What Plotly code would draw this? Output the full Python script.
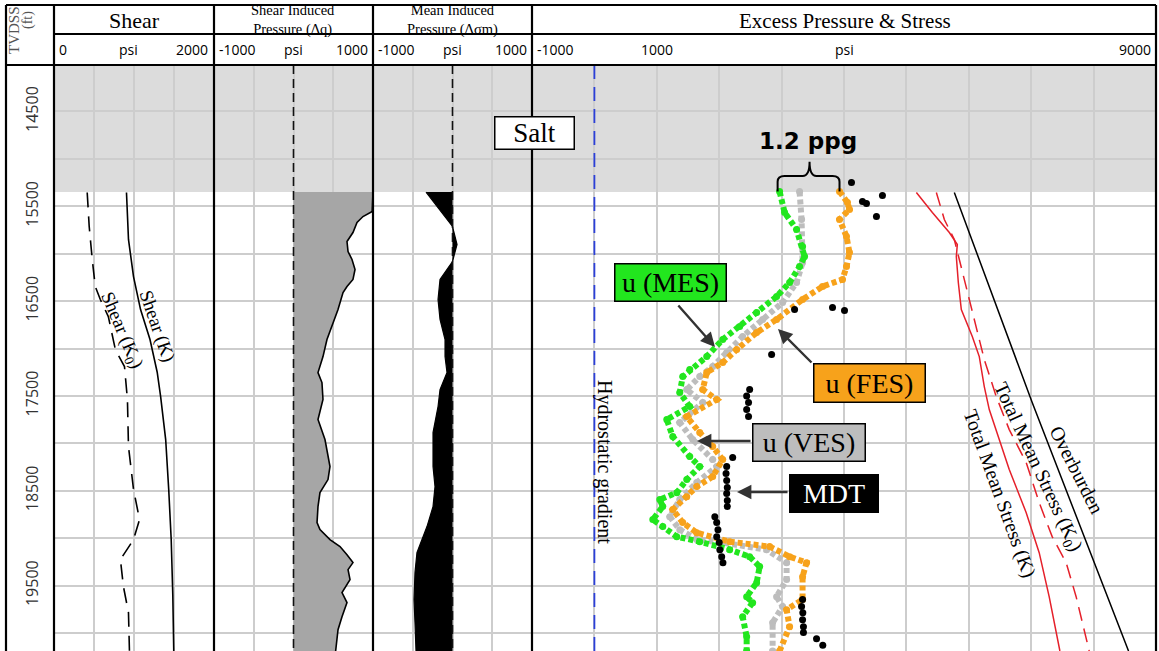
import plotly.graph_objects as go

# ---------------------------------------------------------------- data
depth_range = [20190, 14010]          # ft TVDSS (reversed: depth increases downward)
grid_depths = [14500, 15000, 15500, 16000, 16500, 17000, 17500, 18000,
               18500, 19000, 19500, 20000]
depth_labels = ["14500", "", "15500", "", "16500", "", "17500", "",
                "18500", "", "19500", ""]
salt_base_ft = 15350

# Track 1 - shear strength
shear_k_depth = [15354, 15534, 15850, 16241, 16589, 16905, 17250, 17507,
                 17960, 18487, 19015, 19600, 20190]
shear_k_psi = [906, 918, 931, 994, 1082, 1200, 1290, 1333,
               1396, 1434, 1465, 1485, 1497]
shear_k0_depth = [15354, 15713, 16061, 16346, 16483, 16663, 17011, 17190,
                  17538, 18034, 18487, 18804, 19015, 19226, 19511, 19785, 20190]
shear_k0_psi = [415, 440, 478, 516, 579, 679, 767, 881,
                918, 931, 994, 1069, 994, 830, 868, 931, 943]

# Track 2 - shear induced pressure (delta q)
dq_depth = [15350, 15555, 15608, 15671, 15777, 15872, 15977, 16061, 16167,
            16272, 16346, 16410, 16589, 16768, 16905, 17085, 17254, 17359,
            17538, 17749, 17960, 18245, 18382, 18520, 18667, 18836, 18910,
            19015, 19089, 19174, 19258, 19332, 19437, 19574, 19680, 19828,
            19965, 20190]
dq_psi = [1000, 990, 874, 799, 748, 673, 686, 736, 774,
          748, 673, 623, 560, 484, 421, 371, 308, 358,
          371, 308, 396, 459, 434, 333, 308, 296, 333,
          459, 585, 673, 748, 686, 711, 610, 673, 610,
          560, 530]

# Track 3 - mean induced pressure (delta sigma m)
dsm_depth = [15350, 15713, 15903, 16082, 16272, 16483, 16694, 16905, 17085,
             17254, 17433, 17612, 17887, 18245, 18456, 18667, 18878, 19015,
             19152, 19363, 19648, 19891, 20190]
dsm_psi = [-333, 0, 57, 0, -157, -182, -157, -94, -94,
           -69, -157, -182, -245, -245, -220, -245, -321, -384,
           -447, -472, -484, -472, -459]

zero_depth = [14010, 20190]
zero_psi = [0, 0]

# Track 4 - excess pore pressure from mean / vertical / fracture effective stress
mes_depth = [15344, 15566, 15745, 15924, 16030, 16135, 16304, 16452, 16621,
             16768, 16905, 17085, 17222, 17296, 17465, 17612, 17749, 17929,
             18140, 18245, 18382, 18520, 18593, 18667, 18804, 18878, 18984,
             19037, 19121, 19195, 19300, 19469, 19617, 19680, 19828, 20039,
             20190]
mes_psi = [2968, 3048, 3240, 3336, 3368, 3288, 3128, 2920, 2600,
           2328, 2056, 1800, 1528, 1416, 1368, 1528, 1160, 1256,
           1528, 1688, 1480, 1320, 1048, 1096, 936, 1096, 1320,
           1688, 2168, 2488, 2648, 2600, 2440, 2536, 2376, 2440,
           2440]

ves_depth = [15344, 15639, 16093, 16304, 16515, 16694, 16874, 17043, 17190,
             17296, 17433, 17570, 17781, 17960, 18171, 18245, 18414, 18593,
             18773, 18910, 19015, 19047, 19121, 19258, 19437, 19617, 19722,
             19891, 20190]
ves_psi = [3288, 3320, 3336, 3240, 3016, 2696, 2376, 2120, 1896,
           1688, 1480, 1736, 1368, 1576, 1896, 1960, 1640, 1368,
           1208, 1368, 1640, 2056, 2760, 3080, 3080, 2920, 3016,
           2856, 2856]

fes_depth = [15344, 15460, 15534, 15639, 15819, 15988, 16135, 16272, 16346,
             16483, 16694, 16832, 17011, 17148, 17254, 17433, 17538, 17718,
             17887, 18034, 18171, 18351, 18456, 18562, 18699, 18836, 18942,
             19037, 19089, 19195, 19258, 19406, 19648, 19754, 19933, 20190]
fes_psi = [3928, 4056, 4088, 3928, 4040, 4088, 4040, 3976, 3656,
           3336, 2920, 2600, 2280, 2056, 1800, 1736, 1960, 1480,
           1688, 1896, 2056, 1896, 1640, 1480, 1256, 1416, 1640,
           2168, 2808, 3128, 3400, 3336, 3336, 3080, 3128, 2968]

mdt_depth = [15249, 15450, 15470, 15386, 15608, 16589, 16568, 16600, 17064,
             17433, 17500, 17570, 17644, 17718, 18150, 18245, 18319, 18393,
             18467, 18530, 18604, 18667, 18773, 18836, 18910, 18984, 19047,
             19121, 19195, 19258, 19648, 19722, 19786, 19860, 19933, 19996,
             20060, 20130]
mdt_psi = [4120, 4296, 4360, 4616, 4520, 3208, 3816, 4008, 2840,
           2488, 2440, 2470, 2440, 2470, 2216, 2120, 2110, 2120,
           2130, 2120, 2130, 2130, 1930, 1960, 1980, 1960, 2000,
           2010, 2040, 2060, 3336, 3320, 3340, 3336, 3350, 3350,
           3560, 3660]

tms_k_depth = [15354, 15566, 15777, 15903, 16030, 16304, 16589, 16874, 17085,
               17401, 17644, 18066, 18277, 18731, 19153, 19617, 20190]
tms_k_psi = [5160, 5416, 5688, 5816, 5800, 5832, 5880, 6056, 6168,
             6248, 6328, 6536, 6648, 6920, 7128, 7288, 7460]

tms_k0_depth = [15354, 15639, 15850, 16061, 16346, 16800, 17116, 17507, 17855,
                18203, 18625, 18984, 19258, 19617, 20039, 20190]
tms_k0_psi = [5480, 5608, 5768, 5848, 5960, 6120, 6248, 6440, 6648,
              6920, 7128, 7336, 7560, 7720, 7880, 7930]

ob_depth = [15354, 17570, 20190]
ob_psi = [5768, 7016, 8560]

hydro_depth = [14010, 20190]
hydro_psi = [0, 0]

# ---------------------------------------------------------------- layout helpers
W, H = 1159, 651
HEAD_TOP, HEAD_MID, HEAD_BOT = 5, 34, 65
FRAME_L = 6
EDGES = [54, 214, 373, 532, 1156]


def fx(px):
    return px / W


def fy(py):
    return 1 - py / H


SERIF = "Liberation Serif"
SANS = "Open Sans"
GRID = "#cdcdcd"

fig = go.Figure()

tracks = [
    dict(rng=[0, 2000], dtick=500),
    dict(rng=[-1000, 1000], dtick=500),
    dict(rng=[-1000, 1000], dtick=500),
    dict(rng=[-1000, 9000], dtick=1000),
]

layout_axes = {}
for i, t in enumerate(tracks):
    n = "" if i == 0 else str(i + 1)
    layout_axes["xaxis" + n] = dict(
        domain=[fx(EDGES[i]), fx(EDGES[i + 1])], range=t["rng"],
        anchor="y" + n, dtick=t["dtick"], tick0=t["rng"][0],
        showgrid=True, gridcolor=GRID, gridwidth=1.5,
        showticklabels=False, ticks="", zeroline=False, showline=False,
        fixedrange=True)
    ydict = dict(
        domain=[0, fy(HEAD_BOT)], range=depth_range, anchor="x" + n,
        tickmode="array", tickvals=grid_depths, ticktext=depth_labels,
        showgrid=True, gridcolor=GRID, gridwidth=1.5, zeroline=False,
        showline=False, ticks="", fixedrange=True)
    if i == 0:
        ydict.update(showticklabels=True, tickangle=-90,
                     tickfont=dict(family=SANS, size=16, color="#333333"),
                     ticklabelstandoff=12)
    else:
        ydict.update(showticklabels=False, matches="y")
    layout_axes["yaxis" + n] = ydict

# ---------------------------------------------------------------- traces
# track 1
fig.add_trace(go.Scatter(x=shear_k_psi, y=shear_k_depth, mode="lines",
                         line=dict(color="black", width=1.6), xaxis="x", yaxis="y"))
fig.add_trace(go.Scatter(x=shear_k0_psi, y=shear_k0_depth, mode="lines",
                         line=dict(color="black", width=1.6, dash="15px,9px"),
                         xaxis="x", yaxis="y"))

# track 2
fig.add_trace(go.Scatter(x=dq_psi, y=dq_depth, mode="lines", fill="tozerox",
                         fillcolor="#a6a6a6", line=dict(color="black", width=1.6),
                         xaxis="x2", yaxis="y2"))
fig.add_trace(go.Scatter(x=zero_psi, y=zero_depth, mode="lines",
                         line=dict(color="#111111", width=1.6, dash="9px,5px"),
                         xaxis="x2", yaxis="y2"))

# track 3
fig.add_trace(go.Scatter(x=dsm_psi, y=dsm_depth, mode="lines", fill="tozerox",
                         fillcolor="black", line=dict(color="black", width=1.2),
                         xaxis="x3", yaxis="y3"))
fig.add_trace(go.Scatter(x=zero_psi, y=zero_depth, mode="lines",
                         line=dict(color="#111111", width=1.6, dash="9px,5px"),
                         xaxis="x3", yaxis="y3"))

# track 4
fig.add_trace(go.Scatter(x=hydro_psi, y=hydro_depth, mode="lines",
                         line=dict(color="#2b3fd8", width=1.8, dash="14px,8px"),
                         xaxis="x4", yaxis="y4"))
fig.add_trace(go.Scatter(x=ob_psi, y=ob_depth, mode="lines",
                         line=dict(color="black", width=1.5),
                         xaxis="x4", yaxis="y4"))
fig.add_trace(go.Scatter(x=tms_k_psi, y=tms_k_depth, mode="lines",
                         line=dict(color="#e5202a", width=1.5),
                         xaxis="x4", yaxis="y4"))
fig.add_trace(go.Scatter(x=tms_k0_psi, y=tms_k0_depth, mode="lines",
                         line=dict(color="#e5202a", width=1.5, dash="14px,8px"),
                         xaxis="x4", yaxis="y4"))

for xs, ys, col in [(ves_psi, ves_depth, "#bdbdbd"),
                    (mes_psi, mes_depth, "#22e61e"),
                    (fes_psi, fes_depth, "#f7a21b")]:
    fig.add_trace(go.Scatter(x=xs, y=ys, mode="lines+markers",
                             line=dict(color=col, width=6, dash="5px,3px"),
                             marker=dict(color=col, size=7),
                             xaxis="x4", yaxis="y4"))

fig.add_trace(go.Scatter(x=mdt_psi, y=mdt_depth, mode="markers",
                         marker=dict(color="black", size=7),
                         xaxis="x4", yaxis="y4"))

# ---------------------------------------------------------------- shapes
shapes = []
# salt body
shapes.append(dict(type="rect", xref="paper", yref="y", layer="below",
                   x0=fx(EDGES[0]), x1=fx(EDGES[-1]), y0=depth_range[1], y1=salt_base_ft,
                   fillcolor="#dcdcdc", line=dict(width=0)))


# frame lines
def vline(px, y0, y1, w=2.2):
    shapes.append(dict(type="line", xref="paper", yref="paper", layer="above",
                       x0=fx(px), x1=fx(px), y0=fy(y0), y1=fy(y1),
                       line=dict(color="black", width=w)))


def hline(py, x0, x1, w=2.2):
    shapes.append(dict(type="line", xref="paper", yref="paper", layer="above",
                       x0=fx(x0), x1=fx(x1), y0=fy(py), y1=fy(py),
                       line=dict(color="black", width=w)))


vline(FRAME_L, HEAD_TOP, H)
for e in EDGES:
    vline(e, HEAD_TOP, H)
hline(HEAD_TOP, FRAME_L, EDGES[-1])
hline(HEAD_MID, EDGES[0], EDGES[-1])
hline(HEAD_BOT, FRAME_L, EDGES[-1])

# "1.2 ppg" brace over the effective-stress spread
bx0, bxm, bx1 = 2936, 3448, 3928
yb, yh, yt = 15344, 15180, 15030
rx, ry = 110, 60
brace = (f"M {bx0},{yb} L {bx0},{yh + ry} Q {bx0},{yh} {bx0 + rx},{yh} "
         f"L {bxm - rx},{yh} Q {bxm},{yh} {bxm},{yt} "
         f"Q {bxm},{yh} {bxm + rx},{yh} L {bx1 - rx},{yh} "
         f"Q {bx1},{yh} {bx1},{yh + ry} L {bx1},{yb}")
shapes.append(dict(type="path", xref="x4", yref="y4", path=brace, layer="above",
                   line=dict(color="black", width=2)))

# ---------------------------------------------------------------- annotations
ann = []


def text(px, py, s, size=14, family=SERIF, color="black", xanchor="center",
         angle=0, **kw):
    ann.append(dict(x=fx(px), y=fy(py), xref="paper", yref="paper", text=s,
                    showarrow=False, xanchor=xanchor, yanchor="middle",
                    textangle=angle, font=dict(family=family, size=size, color=color),
                    **kw))


# header titles
text(14, 30, "TVDSS", size=15, color="#555555", angle=-90)
text(28, 20, "(ft)", size=14, color="#555555", angle=-90)
text(134, 20, "Shear", size=22)
text(293, 20.5, "Shear Induced<br>Pressure (Δq)", size=14.5, borderpad=0)
text(452, 20.5, "Mean Induced<br>Pressure (Δσm)", size=14.5, borderpad=0)
text(845, 21, "Excess Pressure &amp; Stress", size=21)

# scale row
SC = 50
text(57, SC, "0", size=14, family=SANS, xanchor="left")
text(128, SC, "psi", size=14, family=SANS)
text(210, SC, "2000", size=14, family=SANS, xanchor="right")
for e0, e1 in [(214, 373), (373, 532)]:
    text(e0 + 3, SC, "-1000", size=14, family=SANS, xanchor="left")
    text((e0 + e1) / 2, SC, "psi", size=14, family=SANS)
    text(e1 - 3, SC, "1000", size=14, family=SANS, xanchor="right")
text(535, SC, "-1000", size=14, family=SANS, xanchor="left")
text(657, SC, "1000", size=14, family=SANS)
text(844, SC, "psi", size=14, family=SANS)
text(1153, SC, "9000", size=14, family=SANS, xanchor="right")

# salt label
text(534, 133, "Salt", size=27, bgcolor="white", bordercolor="black",
     borderwidth=1.5, borderpad=1, width=76, height=29)

# curve labels
text(157, 326, "Shear (K)", size=19, angle=71)
text(121, 330, "Shear (K<sub>0</sub>)", size=19, angle=67)
text(605, 462, "Hydrostatic gradient", size=20, angle=90)
text(1000, 493, "Total Mean Stress (K)", size=20, angle=70)
text(1038, 467, "Total Mean Stress (K<sub>0</sub>)", size=20, angle=65)
text(1077, 470, "Overburden", size=20, angle=63)
text(808, 141, "<b>1.2 ppg</b>", size=23, family="DejaVu Sans")

# boxed series labels
text(670, 283, "u (MES)", size=28, bgcolor="#22e61e", bordercolor="black",
     borderwidth=1.5, borderpad=1, width=108, height=34)
text(869, 383, "u (FES)", size=28, bgcolor="#f7a21b", bordercolor="black",
     borderwidth=1.5, borderpad=1, width=108, height=35)
text(809, 442, "u (VES)", size=28, bgcolor="#bdbdbd", bordercolor="black",
     borderwidth=1.5, borderpad=1, width=109, height=34)
text(834, 493, "MDT", size=28, color="white", bgcolor="black", bordercolor="black",
     borderwidth=1.5, borderpad=1, width=85, height=34)


# pointer arrows
def arrow(hx, hy, tx, ty):
    ann.append(dict(x=fx(hx), y=fy(hy), xref="paper", yref="paper", text="",
                    showarrow=True, ax=tx - hx, ay=ty - hy, arrowhead=2,
                    arrowsize=1.2, arrowwidth=2.4, arrowcolor="#333333"))


arrow(715, 347, 677, 304)
arrow(778, 329, 813, 364)
arrow(697, 441, 752, 441)
arrow(737, 492, 789, 492)

fig.update_layout(
    width=W, height=H, margin=dict(l=0, r=0, t=0, b=0),
    paper_bgcolor="white", plot_bgcolor="rgba(0,0,0,0)",
    showlegend=False, shapes=shapes, annotations=ann, **layout_axes)

fig.write_html("out.html")
